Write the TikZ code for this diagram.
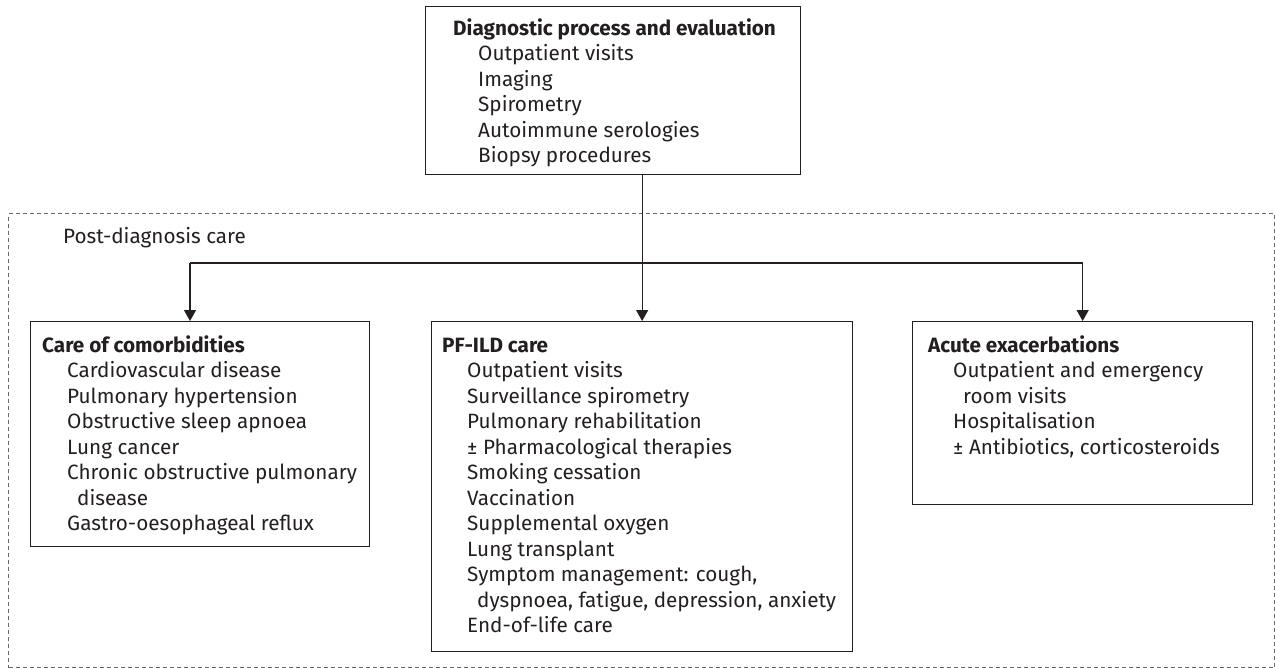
\documentclass[tikz,border=0pt]{standalone}
\usepackage{fontspec}
\setmainfont{Fira Sans}
\usetikzlibrary{arrows.meta,calc}
\definecolor{ink}{HTML}{231F20}
\definecolor{framegray}{HTML}{6A6A6A}
\tikzset{
  box/.style={draw=ink, line width=1.3pt, inner sep=0pt, anchor=north west},
  txt/.style={inner sep=0pt, anchor=base west, text=ink, font=\fontsize{20.7}{25.5}\selectfont},
  conn/.style={draw=ink, line width=1.3pt},
  arr/.style={conn, -{Triangle[length=11pt,width=12pt]}},
  dashframe/.style={draw=framegray, dash pattern=on 4pt off 3pt, line width=1pt, inner sep=0pt, anchor=north west},
}
\newcommand{\itm}[1]{\hspace*{25pt}#1}
\newcommand{\cont}[1]{\hspace*{35pt}#1}
\begin{document}
\begin{tikzpicture}[x=1pt,y=-1pt]
\useasboundingbox (0,0) rectangle (1275,667);
% dashed frame
\node[dashframe, minimum width=1266pt, minimum height=454pt] (frame) at (8,213) {};
\node[txt] (postlbl) at (63,243) {Post-diagnosis care};
% boxes
\node[box, minimum width=375pt, minimum height=168pt] (diag) at (425,6) {};
\node[box, minimum width=339pt, minimum height=225pt] (comorb) at (30,321) {};
\node[box, minimum width=421pt, minimum height=330pt] (pfild) at (431,321) {};
\node[box, minimum width=340pt, minimum height=183pt] (acute) at (912,321) {};
% texts
\node[txt] (diagtxt) at (453,35) {\begin{tabular}[t]{@{}l@{}}
\textbf{Diagnostic process and evaluation}\\
\itm{Outpatient visits}\\
\itm{Imaging}\\
\itm{Spirometry}\\
\itm{Autoimmune serologies}\\
\itm{Biopsy procedures}
\end{tabular}};
\node[txt] (comorbtxt) at (42,352) {\begin{tabular}[t]{@{}l@{}}
\textbf{Care of comorbidities}\\
\itm{Cardiovascular disease}\\
\itm{Pulmonary hypertension}\\
\itm{Obstructive sleep apnoea}\\
\itm{Lung cancer}\\
\itm{Chronic obstructive pulmonary}\\
\cont{disease}\\
\itm{Gastro-oesophageal reflux}
\end{tabular}};
\node[txt] (pfildtxt) at (442,352) {\begin{tabular}[t]{@{}l@{}}
\textbf{PF-ILD care}\\
\itm{Outpatient visits}\\
\itm{Surveillance spirometry}\\
\itm{Pulmonary rehabilitation}\\
\itm{± Pharmacological therapies}\\
\itm{Smoking cessation}\\
\itm{Vaccination}\\
\itm{Supplemental oxygen}\\
\itm{Lung transplant}\\
\itm{Symptom management: cough,}\\
\cont{dyspnoea, fatigue, depression, anxiety}\\
\itm{End-of-life care}
\end{tabular}};
\node[txt] (acutetxt) at (928,352) {\begin{tabular}[t]{@{}l@{}}
\textbf{Acute exacerbations}\\
\itm{Outpatient and emergency}\\
\cont{room visits}\\
\itm{Hospitalisation}\\
\itm{± Antibiotics, corticosteroids}
\end{tabular}};
% connectors
\coordinate (split) at (641.5,263);
\coordinate (lefttop) at (190,263);
\draw[arr] (diag.south -| pfild.north) -- (pfild.north);
\draw[conn] (split) -- (lefttop);
\draw[arr] (lefttop) -- (lefttop |- comorb.north);
\draw[arr] (split) -| (acute.north);
\end{tikzpicture}
\end{document}
